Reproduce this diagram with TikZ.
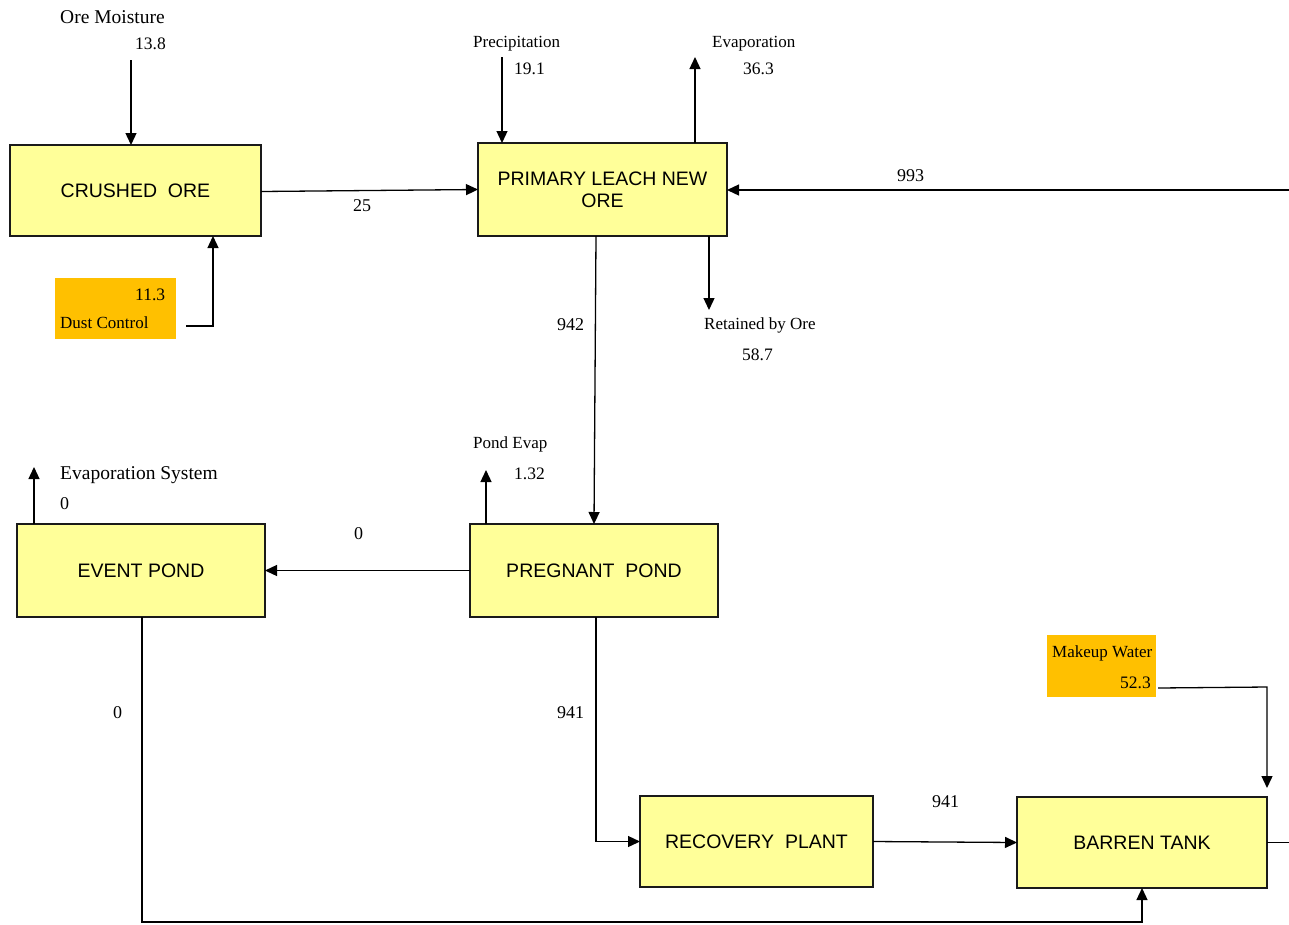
\documentclass[tikz,border=0pt]{standalone}
\usepackage{fontspec}
\setmainfont{Liberation Serif}
\newfontfamily\arialf{Liberation Sans}
\usetikzlibrary{arrows.meta}
\definecolor{boxfill}{HTML}{FFFF99}
\definecolor{orangefill}{HTML}{FFC000}
\definecolor{edge}{HTML}{1A1A1A}
\tikzset{
  proc/.style={draw=edge, line width=1.4pt, fill=boxfill, inner sep=0pt, outer sep=0pt,
    font=\arialf\fontsize{19.5}{22}\selectfont, align=center},
  src/.style={fill=orangefill, draw=none, inner sep=0pt, outer sep=0pt},
  arr/.style={draw=black, line width=1.3pt, -{Triangle[length=12pt,width=11pt]}},
  ln/.style={draw=black, line width=1.3pt},
  small/.style={inner sep=0pt, anchor=base west, font=\fontsize{17}{20}\selectfont},
  big/.style={inner sep=0pt, anchor=base west, font=\fontsize{19.5}{22}\selectfont},
  num/.style={inner sep=0pt, anchor=base west, font=\fontsize{17.5}{20}\selectfont},
  flow/.style={inner sep=0pt, anchor=base west, font=\fontsize{18}{20}\selectfont}
}
\begin{document}
\begin{tikzpicture}[x=1pt,y=-1pt]
\useasboundingbox (0,0) rectangle (1289,924);
% process boxes
\node[proc, minimum width=251, minimum height=91] (crushed) at (135.5,190.5) {CRUSHED\ \ ORE};
\node[proc, minimum width=249, minimum height=93] (leach) at (602.5,189.5) {PRIMARY\ LEACH\ NEW\\ORE};
\node[proc, minimum width=248, minimum height=93] (event) at (141,570.5) {EVENT POND};
\node[proc, minimum width=248, minimum height=93] (pregnant) at (594,570.5) {PREGNANT\ \ POND};
\node[proc, minimum width=233, minimum height=91] (recovery) at (756.5,841.5) {RECOVERY\ \ PLANT};
\node[proc, minimum width=250, minimum height=91] (barren) at (1142,842.5) {BARREN TANK};
% source boxes
\node[src, minimum width=121, minimum height=61] (dust) at (115.5,308.5) {};
\node[src, minimum width=109, minimum height=62] (makeup) at (1101.5,666) {};
% helper coordinates
\coordinate (om) at (131,60);
\coordinate (dc) at (186,326);
\coordinate (x213) at (213,0);
\coordinate (pr) at (502,57);
\coordinate (ev) at (695,57);
\coordinate (r993) at (1289,190);
\coordinate (ret) at (709,310);
\coordinate (pe) at (486,470);
\coordinate (es) at (34,467);
\coordinate (bl) at (142,922);
\coordinate (mw) at (1158,688);
\coordinate (mwc) at (1267,687);
\coordinate (xr) at (1289,0);
% connectors
\draw[arr] (om) -- (om |- crushed.north);
\draw[arr] ([yshift=-1]crushed.east) -- (leach.west);
\draw[arr] (dc) -| (crushed.south -| x213);
\draw[arr] (pr) -- (pr |- leach.north);
\draw[arr] (leach.north -| ev) -- (ev);
\draw[arr] (r993) -- (r993 -| leach.east);
\draw[arr] ([xshift=-6.5]leach.south) -- (pregnant.north);
\draw[arr] (leach.south -| ret) -- (ret);
\draw[arr] (pregnant.north -| pe) -- (pe);
\draw[arr] (event.north -| es) -- (es);
\draw[arr] (pregnant.west) -- (event.east);
\draw[arr] (event.south -| bl) -- (bl) -| (barren.south);
\draw[arr] ([xshift=2]pregnant.south) |- (recovery.west);
\draw[arr] (recovery.east) -- (barren.west);
\draw[arr] (mw) -- (mwc) -- ([yshift=9]barren.north east);
\draw[ln] (barren.east) -- (barren.east -| xr);
% labels
\node[big] (tOM) at (60,23) {Ore Moisture};
\node[num] (v138) at (135,49) {13.8};
\node[small] (tPr) at (473,47) {Precipitation};
\node[num] (v191) at (514,74) {19.1};
\node[small] (tEv) at (712,47) {Evaporation};
\node[num] (v363) at (743,74) {36.3};
\node[flow] (v993) at (897,181) {993};
\node[flow] (v25) at (353,211) {25};
\node[flow] (v942) at (557,330) {942};
\node[small] (tRet) at (704,329) {Retained by Ore};
\node[num] (v587) at (742,360) {58.7};
\node[small] (tPE) at (473,448) {Pond Evap};
\node[num] (v132) at (514,479) {1.32};
\node[big] (tES) at (60,479) {Evaporation System};
\node[flow] (vES) at (60,509) {0};
\node[flow] (vPE) at (354,539) {0};
\node[flow] (vEB) at (113,718) {0};
\node[flow] (v941a) at (557,718) {941};
\node[flow] (v941b) at (932,807) {941};
\node[small] (tMW) at (1052,657) {Makeup Water};
\node[num] (v523) at (1120,688) {52.3};
\node[small] (tDC) at (60,328) {Dust Control};
\node[num] (v113) at (135,300) {11.3};
\end{tikzpicture}
\end{document}
